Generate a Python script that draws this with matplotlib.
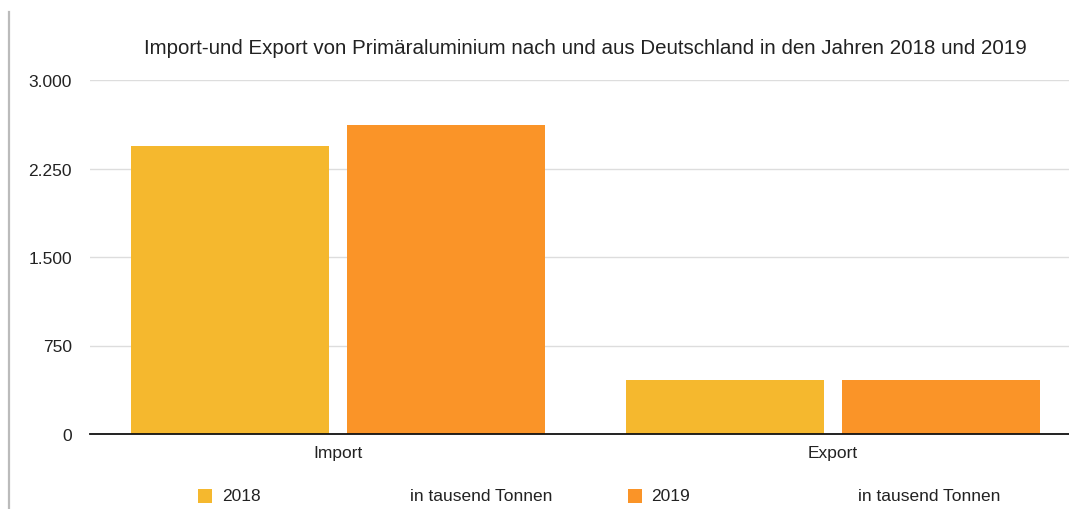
import matplotlib
matplotlib.use("Agg")
import matplotlib.pyplot as plt
from matplotlib.patches import Rectangle
from matplotlib.lines import Line2D
import numpy as np

plt.rcParams['font.family'] = ['Liberation Sans', 'DejaVu Sans']

categories = ["Import", "Export"]
years = ["2018", "2019"]
values_2018 = [2440, 460]
values_2019 = [2620, 460]
yticks = [0, 750, 1500, 2250, 3000]
ytick_labels = ["0", "750", "1.500", "2.250", "3.000"]
unit_label = "in tausend Tonnen"
title = "Import-und Export von Primäraluminium nach und aus Deutschland in den Jahren 2018 und 2019"

colors = ["#F5B82E", "#FA9428"]

W, H = 1069, 510
fig = plt.figure(figsize=(W / 100, H / 100), dpi=100)

ax_left, ax_right, ax_top, ax_bottom = 90, 1069, 81, 435
ax = fig.add_axes([ax_left / W, 1 - ax_bottom / H,
                   (ax_right - ax_left) / W, (ax_bottom - ax_top) / H])

x = np.arange(len(categories))
bar_w = 0.4
gap = 0.0364
ax.bar(x - (bar_w + gap) / 2, values_2018, width=bar_w, color=colors[0], zorder=3)
ax.bar(x + (bar_w + gap) / 2, values_2019, width=bar_w, color=colors[1], zorder=3)

ax.set_xlim(-0.5, 1.477)
ax.set_ylim(0, 3000)
ax.set_yticks(yticks)
ax.set_yticklabels(ytick_labels, fontsize=12.5, color="#222222")
ax.set_xticks(x)
ax.set_xticklabels(categories, fontsize=12.5, color="#222222")
ax.tick_params(axis="both", length=0)
ax.tick_params(axis="y", pad=13)
ax.tick_params(axis="x", pad=8)

ax.grid(axis="y", color="#dddddd", linewidth=1, zorder=0)
for s in ["top", "right", "left"]:
    ax.spines[s].set_visible(False)
ax.spines["bottom"].set_color("#111111")
ax.spines["bottom"].set_linewidth(1.3)
ax.spines["bottom"].set_zorder(4)

fig.text(585 / W, 1 - 48 / H, title, ha="center", va="center",
         fontsize=14.8, color="#222222")

# legend row along the bottom
legend_y = 497
entries = [(198, 222, 410, colors[0], years[0]),
           (628, 651, 858, colors[1], years[1])]
for sx, tx, ux, c, lab in entries:
    fig.patches.append(Rectangle((sx / W, 1 - (legend_y + 7) / H), 14 / W, 14 / H,
                                 transform=fig.transFigure, facecolor=c,
                                 edgecolor="none"))
    fig.text(tx / W, 1 - legend_y / H, lab, ha="left", va="center",
             fontsize=12.5, color="#222222")
    fig.text(ux / W, 1 - legend_y / H, unit_label, ha="left", va="center",
             fontsize=12.5, color="#222222")

# page border on the left
fig.add_artist(Line2D([9 / W, 9 / W], [0, 1 - 13 / H], transform=fig.transFigure,
                      color="#bbbbbb", linewidth=1.6))

fig.savefig("out.png", dpi=100, facecolor="white")
